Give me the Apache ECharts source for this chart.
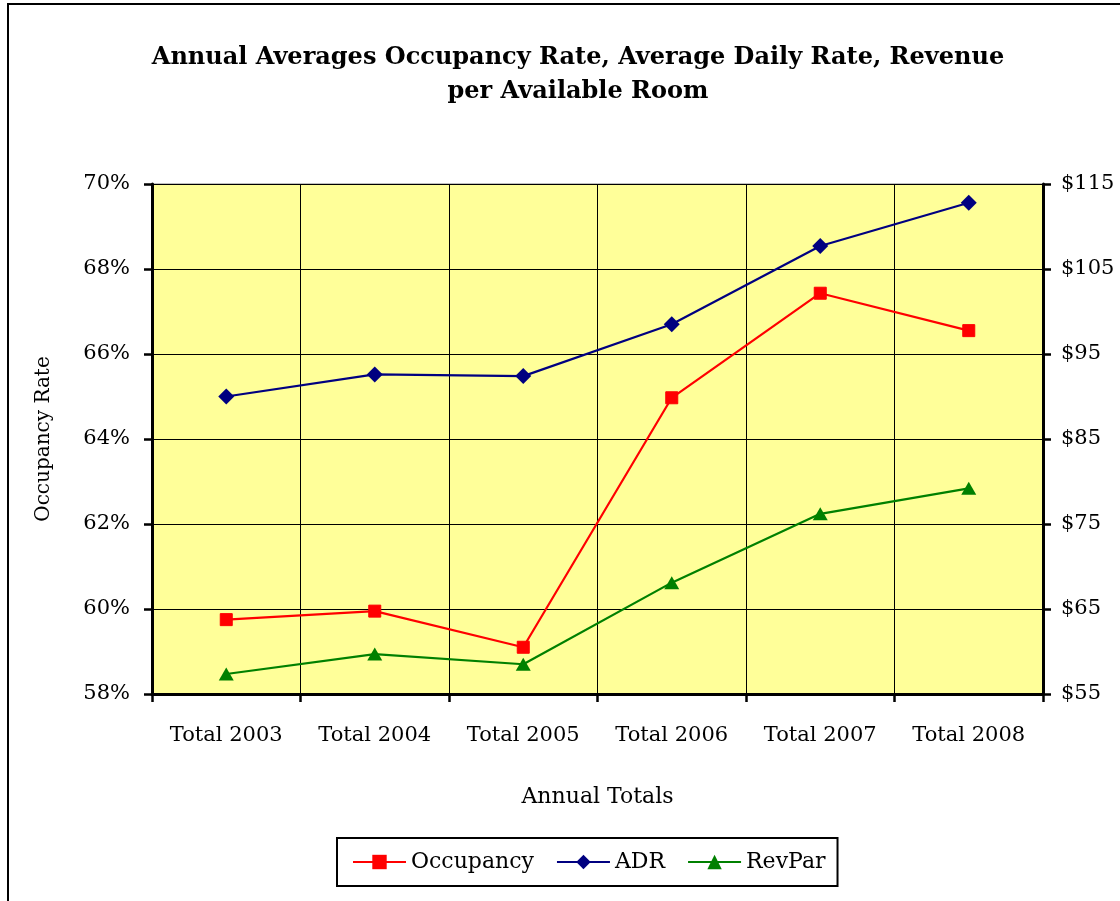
<!DOCTYPE html>
<html>
<head>
<meta charset="utf-8">
<script src="https://cdn.jsdelivr.net/npm/echarts@6/dist/echarts.min.js"></script>
<style>
html,body{margin:0;padding:0;background:#fff;}
#chart{width:1120px;height:901px;}
</style>
</head>
<body>
<div id="chart"></div>
<script>
var categories = ['Total 2003', 'Total 2004', 'Total 2005', 'Total 2006', 'Total 2007', 'Total 2008'];
var occupancy = [59.75, 59.95, 59.1, 64.97, 67.43, 66.55];
var adr = [90.0, 92.6, 92.4, 98.5, 107.7, 112.8];
var revpar = [57.35, 59.7, 58.5, 68.1, 76.2, 79.2];
var leftTicks = [58, 70, 2];
var rightTicks = [55, 115, 10];

var FONT = 'DejaVu Serif';
var chart = echarts.init(document.getElementById('chart'));
chart.setOption({
  animation: false,
  backgroundColor: '#fff',
  textStyle: { fontFamily: FONT, color: '#000' },
  graphic: [{
    type: 'rect', z: -10,
    shape: { x: 8, y: 4, width: 1200, height: 1000 },
    style: { fill: 'none', stroke: '#000', lineWidth: 2 }
  }],
  title: {
    text: 'Annual Averages Occupancy Rate, Average Daily Rate, Revenue\nper Available Room',
    left: 573, top: 36, textAlign: 'center',
    textStyle: { fontFamily: FONT, fontSize: 24, fontWeight: 'bold', lineHeight: 34, color: '#000' }
  },
  legend: {
    left: 337, top: 838,
    borderColor: '#000', borderWidth: 2,
    padding: [13, 12, 13, 15],
    itemWidth: 53, itemHeight: 18, itemGap: 22,
    textStyle: { fontFamily: FONT, fontSize: 22, color: '#000' },
    data: ['Occupancy', 'ADR', 'RevPar']
  },
  grid: {
    left: 152, right: 77, top: 184, bottom: 207,
    show: true, backgroundColor: '#FFFF99', borderColor: '#808080', borderWidth: 1
  },
  xAxis: {
    type: 'category', data: categories, boundaryGap: true,
    name: 'Annual Totals', nameLocation: 'middle', nameGap: 92,
    nameTextStyle: { fontFamily: FONT, fontSize: 22, color: '#000' },
    axisLine: { lineStyle: { color: '#000', width: 3 } },
    axisTick: { show: true, interval: 0, length: 8, lineStyle: { color: '#000', width: 2.5 } },
    axisLabel: { interval: 0, fontFamily: FONT, fontSize: 21, color: '#000', margin: 31 },
    splitLine: { show: true, interval: 0, lineStyle: { color: '#000', width: 1 } }
  },
  yAxis: [{
    type: 'value', min: leftTicks[0], max: leftTicks[1], interval: leftTicks[2],
    name: 'Occupancy Rate', nameLocation: 'middle', nameGap: 98, nameRotate: 90,
    nameTextStyle: { fontFamily: FONT, fontSize: 20, color: '#000' },
    axisLine: { show: true, lineStyle: { color: '#000', width: 3 } },
    axisTick: { show: true, length: 8, lineStyle: { color: '#000', width: 2.5 } },
    axisLabel: { fontFamily: FONT, fontSize: 21, color: '#000', margin: 22, formatter: '{value}%' },
    splitLine: { show: true, lineStyle: { color: '#000', width: 1 } }
  }, {
    type: 'value', min: rightTicks[0], max: rightTicks[1], interval: rightTicks[2],
    position: 'right',
    axisLine: { show: true, lineStyle: { color: '#000', width: 3 } },
    axisTick: { show: true, length: 8, lineStyle: { color: '#000', width: 2.5 } },
    axisLabel: { fontFamily: FONT, fontSize: 21, color: '#000', margin: 18, formatter: '${value}' },
    splitLine: { show: false }
  }],
  series: [{
    name: 'Occupancy', type: 'line', yAxisIndex: 0, data: occupancy,
    symbol: 'rect', symbolSize: 12,
    lineStyle: { color: '#FF0000', width: 2.2 },
    itemStyle: { color: '#FF0000', borderColor: '#FF0000' }
  }, {
    name: 'ADR', type: 'line', yAxisIndex: 1, data: adr,
    symbol: 'diamond', symbolSize: 16,
    lineStyle: { color: '#000080', width: 2.2 },
    itemStyle: { color: '#000080' }
  }, {
    name: 'RevPar', type: 'line', yAxisIndex: 1, data: revpar,
    symbol: 'triangle', symbolSize: [15, 13],
    lineStyle: { color: '#008000', width: 2.2 },
    itemStyle: { color: '#008000' }
  }]
});
</script>
</body>
</html>
